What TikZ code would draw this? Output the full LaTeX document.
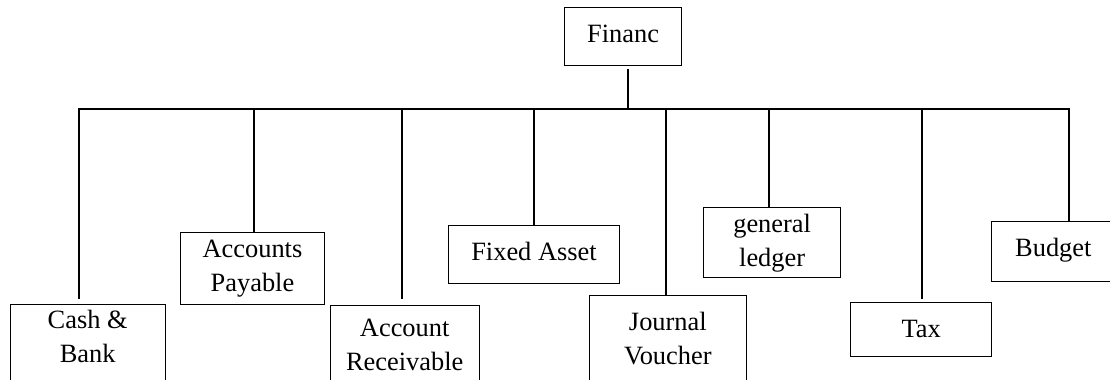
\documentclass[tikz,border=0pt]{standalone}
\usepackage{fontspec}
\setmainfont{Liberation Serif}
\newlength\pxu
\setlength\pxu{0.5pt}
% box content: width, height, top gap (in px units), text lines
\newcommand\unitbox[4]{\parbox[c][#2\pxu][t]{#1\pxu}{\vspace*{#3\pxu}\centering\strut #4}}
\begin{document}
\begin{tikzpicture}[x=0.5pt,y=-0.5pt,
  wire/.style={line width=1pt},
  unit/.style={draw, line width=0.5pt, inner sep=0pt, anchor=north west,
               font=\fontsize{13.2pt}{17pt}\selectfont}]
\useasboundingbox (0,0) rectangle (1110,380);
\clip (0,0) rectangle (1110,380);

% top unit
\node[unit] (fin) at (564.3,7.3) {\unitbox{116.7}{57.7}{11.2}{Financ}};

% modules
\node[unit] (cash) at (9.7,303.7)   {\unitbox{155}{95}{0.8}{Cash \&\\Bank}};
\node[unit] (ap)   at (180.3,231.5) {\unitbox{143.4}{72}{1.2}{Accounts\\Payable}};
\node[unit] (ar)   at (329.7,304.5) {\unitbox{149}{95}{7.2}{Account\\Receivable}};
\node[unit] (fa)   at (448,225)     {\unitbox{171}{58}{11.2}{Fixed Asset}};
\node[unit] (jv)   at (588.7,295.3) {\unitbox{157.3}{95}{10.9}{Journal\\Voucher}};
\node[unit] (gl)   at (703.3,206.5) {\unitbox{136.7}{70.2}{1.4}{general\\ledger}};
\node[unit] (tax)  at (850,301.7)   {\unitbox{141.3}{54}{11.2}{Tax}};
\node[unit] (bud)  at (990.7,220.7) {\unitbox{124.3}{60.3}{11.2}{Budget}};

% bus taps
\coordinate (b1) at (79,108.5);
\coordinate (b2) at (254.3,108.5);
\coordinate (b3) at (401.7,108.5);
\coordinate (b4) at (534,108.5);
\coordinate (bF) at (627.7,108.5);
\coordinate (b5) at (666,108.5);
\coordinate (b6) at (768.7,108.5);
\coordinate (b7) at (921.7,108.5);
\coordinate (b8) at (1069,108.5);

% stem from the top unit down to the bus
\draw[wire, shorten <=1.6pt] (fin.south -| bF) -- (bF);

% bus with its outer drops
\draw[wire, shorten <=2.3pt] (b1 |- cash.north) -- (b1) -- (b8) -- (b8 |- bud.north);

% inner drops
\draw[wire] (b2) -- (b2 |- ap.north);
\draw[wire, shorten >=2.7pt] (b3) -- (b3 |- ar.north);
\draw[wire] (b4) -- (b4 |- fa.north);
\draw[wire] (b5) -- (b5 |- jv.north);
\draw[wire] (b6) -- (b6 |- gl.north);
\draw[wire, shorten >=1.3pt] (b7) -- (b7 |- tax.north);
\end{tikzpicture}
\end{document}
